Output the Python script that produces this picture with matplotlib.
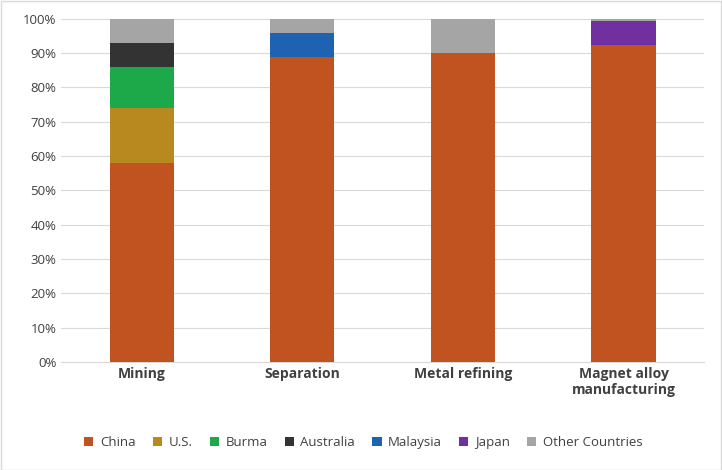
import matplotlib
matplotlib.use("Agg")
import matplotlib.pyplot as plt
import numpy as np

plt.rcParams["font.family"] = "Open Sans"

stages = ["Mining", "Separation", "Metal refining", "Magnet alloy\nmanufacturing"]
countries = ["China", "U.S.", "Burma", "Australia", "Malaysia", "Japan", "Other Countries"]
colors = ["#C0531F", "#B8891E", "#1DA84A", "#333333", "#1F62B2", "#7030A0", "#A5A5A5"]

china = [58, 89, 90, 92.5]
us = [16, 0, 0, 0]
burma = [12, 0, 0, 0]
australia = [7, 0, 0, 0]
malaysia = [0, 7, 0, 0]
japan = [0, 0, 0, 7]
other = [7, 4, 10, 0.5]
series = [china, us, burma, australia, malaysia, japan, other]

fig = plt.figure(figsize=(7.22, 4.70), dpi=100)
ax = fig.add_axes([0.085, 0.23, 0.89, 0.73])
x = np.arange(len(stages))
bottom = np.zeros(len(stages))
for name, vals, c in zip(countries, series, colors):
    ax.bar(x, vals, 0.4, bottom=bottom, color=c, label=name, zorder=3)
    bottom += np.array(vals)

ax.set_ylim(0, 100)
ax.set_xlim(-0.5, 3.5)
ax.set_yticks(range(0, 101, 10))
ax.set_yticklabels([f"{v}%" for v in range(0, 101, 10)], fontsize=9.5, color="#404040")
ax.set_xticks(x)
ax.set_xticklabels(stages, fontsize=10, fontweight="bold", color="#404040")
ax.tick_params(length=0)
ax.grid(axis="y", color="#D9D9D9", lw=0.8, zorder=0)
for s in ["top", "right", "left"]:
    ax.spines[s].set_visible(False)
ax.spines["bottom"].set_color("#D9D9D9")

ax.legend(loc="center", bbox_to_anchor=(0.47, -0.235), ncol=7, frameon=False,
          fontsize=9.5, handlelength=0.7, handleheight=0.7, columnspacing=1.3,
          handletextpad=0.5, labelcolor="#404040")
fig.patches.append(plt.Rectangle((0.001, 0.001), 0.997, 0.997, transform=fig.transFigure,
                                 fill=False, edgecolor="#D9D9D9", lw=1))
fig.savefig("out.png", dpi=100)
